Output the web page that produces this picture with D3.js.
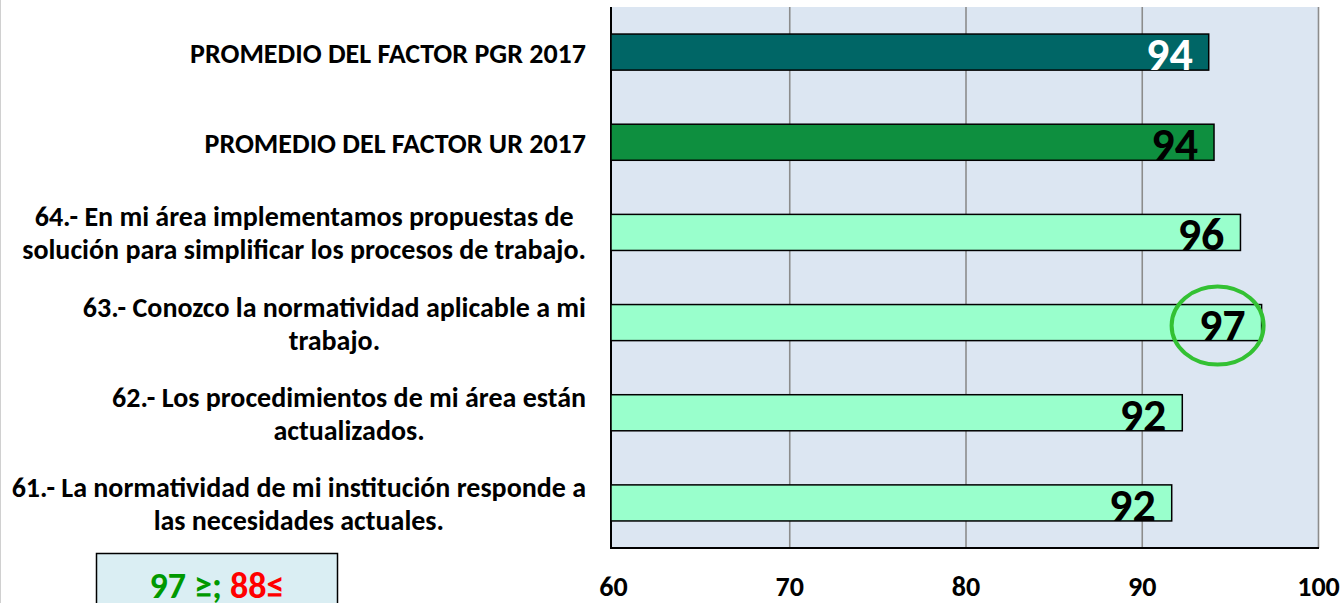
<!DOCTYPE html>
<html><head><meta charset="utf-8">
<script src="https://cdn.jsdelivr.net/npm/d3@7"></script>
<style>
html,body{margin:0;padding:0;background:#fff;}
svg{display:block;}
text{font-weight:bold;font-family:Carlito, Lato, sans-serif;}
</style></head>
<body>
<script>
// ---- data ----
const categories = [
  ["PROMEDIO DEL FACTOR PGR 2017"],
  ["PROMEDIO DEL FACTOR UR 2017"],
  ["64.- En mi área implementamos propuestas de", "solución para simplificar los procesos de trabajo."],
  ["63.- Conozco la normatividad aplicable a mi", "trabajo."],
  ["62.- Los procedimientos de mi área están", "actualizados."],
  ["61.- La normatividad de mi institución responde a", "las necesidades actuales."]
];
const values = [93.8, 94.1, 95.6, 96.8, 92.3, 91.7];
const barColors = ["#006666", "#0e8f3f", "#99ffcc", "#99ffcc", "#99ffcc", "#99ffcc"];
const labelColors = ["#ffffff", "#000000", "#000000", "#000000", "#000000", "#000000"];
const tickValues = [60, 70, 80, 90, 100];
const legendGood = "97 ≥;";
const legendBad = " 88≤";

const W = 1343, H = 603;
const svg = d3.select("body").append("svg").attr("width", W).attr("height", H);

const keys = categories.map((c, i) => i);
const x = d3.scaleLinear().domain([60, 100]).range([613, 1318]);
const y = d3.scaleBand().domain(keys).range([7, 548]).paddingInner(0.6).paddingOuter(0.3);

// faint left page border
svg.append("line").attr("x1", 0.5).attr("x2", 0.5).attr("y1", 0).attr("y2", H)
  .attr("stroke", "#d0d0d0");

// plot background
svg.append("rect").attr("x", x(60) - 2).attr("y", 7)
  .attr("width", x(100) - x(60) + 2).attr("height", 541).attr("fill", "#dce6f2");

// gridlines
svg.append("g").attr("transform", "translate(0,548)")
  .call(d3.axisBottom(x).tickValues(tickValues.slice(1)).tickSize(-541).tickFormat(""))
  .call(g => g.select(".domain").remove())
  .call(g => g.selectAll("line").attr("stroke", "#8c8c8c").attr("stroke-width", 1.6));

// axes lines
svg.append("line").attr("x1", x(60) - 2).attr("x2", x(60) - 2).attr("y1", 7).attr("y2", 549)
  .attr("stroke", "#000").attr("stroke-width", 2);
svg.append("line").attr("x1", x(60) - 3).attr("x2", x(100) + 1).attr("y1", 548).attr("y2", 548)
  .attr("stroke", "#000").attr("stroke-width", 2);

// bars
svg.append("g").selectAll("rect").data(values).join("rect")
  .attr("x", x(60) - 2)
  .attr("y", (d, i) => y(i))
  .attr("width", d => x(d) - x(60) + 2)
  .attr("height", y.bandwidth())
  .attr("fill", (d, i) => barColors[i])
  .attr("stroke", "#000").attr("stroke-width", 1.5);

// value labels
svg.append("g").selectAll("text").data(values).join("text")
  .attr("x", d => x(d) - 16)
  .attr("y", (d, i) => y(i) + y.bandwidth() / 2 + 2)
  .attr("text-anchor", "end")
  .attr("dominant-baseline", "central")
  .attr("font-size", 46)
  .attr("fill", (d, i) => labelColors[i])
  .text(d => d3.format(".0f")(d));

// highlight ellipse on max value
const maxI = d3.maxIndex(values);
svg.append("ellipse")
  .attr("cx", x(values[maxI]) - 44)
  .attr("cy", y(maxI) + y.bandwidth() / 2 + 3)
  .attr("rx", 46).attr("ry", 39)
  .attr("fill", "none").attr("stroke", "#33c133").attr("stroke-width", 4);

// category labels
const labelRight = 586;
const catG = svg.append("g");
categories.forEach((lines, i) => {
  const g = catG.append("g");
  const cy = y(i) + y.bandwidth() / 2 + 1;
  const lh = 33;
  const texts = lines.map((t, j) => g.append("text")
    .attr("font-size", 28)
    .attr("fill", "#000")
    .attr("text-anchor", "middle")
    .attr("dominant-baseline", "central")
    .attr("y", cy + (j - (lines.length - 1) / 2) * lh)
    .text(t));
  const maxW = d3.max(texts, t => t.node().getComputedTextLength());
  texts.forEach(t => t.attr("x", labelRight - maxW / 2));
});

// x tick labels
svg.append("g").attr("transform", "translate(0,586)")
  .call(d3.axisBottom(x).tickValues(tickValues).tickSize(0).tickPadding(0))
  .call(g => g.select(".domain").remove())
  .call(g => g.selectAll("text").attr("font-size", 28).attr("fill", "#000")
    .attr("dy", null).attr("dominant-baseline", "central")
    .style("font-family", "Carlito, Lato, sans-serif").style("font-weight", "bold"));

// legend box
svg.append("rect").attr("x", 96.5).attr("y", 553.5).attr("width", 241).attr("height", 60)
  .attr("fill", "#daeef3").attr("stroke", "#000").attr("stroke-width", 1.5);
const lt = svg.append("text").attr("x", 217).attr("y", 586)
  .attr("text-anchor", "middle").attr("dominant-baseline", "central").attr("font-size", 36);
lt.append("tspan").attr("fill", "#009900").text(legendGood);
lt.append("tspan").attr("fill", "#ff0000").text(legendBad);
</script>
</body></html>
